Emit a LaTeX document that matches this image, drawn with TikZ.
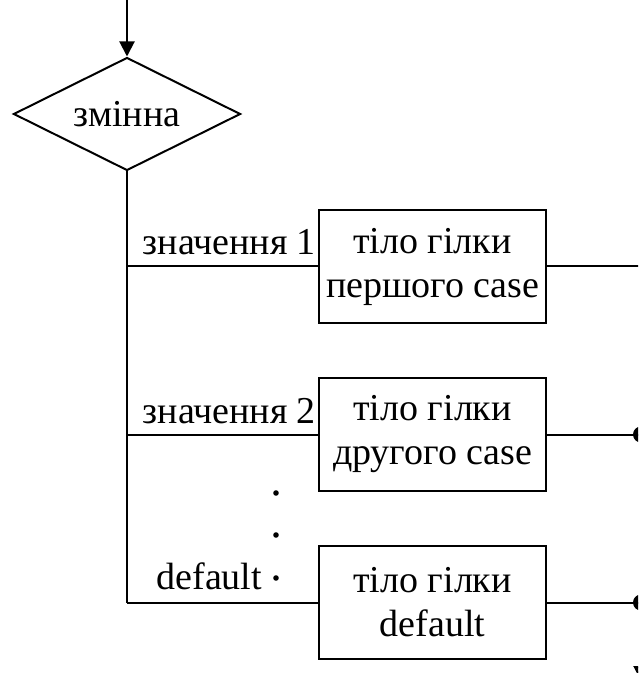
\documentclass[tikz,border=0pt]{standalone}
\usepackage{fontspec}
\setmainfont{Liberation Serif}
\usetikzlibrary{positioning,calc,arrows.meta,shapes.geometric}

\begin{document}
\begin{tikzpicture}[
  x=0.5pt, y=-0.5pt,
  line width=1pt,
  font=\fontsize{19}{22}\selectfont,
  cond/.style={draw, diamond, aspect=2, inner sep=0pt,
               minimum width=113.5pt, minimum height=56.5pt},
  body/.style={draw, minimum width=113.5pt, minimum height=56.5pt,
               align=center, inner sep=0pt},
  lbl/.style={inner sep=0pt},
  arr/.style={-{Triangle[length=7.5pt,width=7.5pt]}},
  dot/.style={fill, inner sep=0pt}
]
  \useasboundingbox (0,0) rectangle (638,673);
  \clip (0,0) rectangle (638,673);

  % Switch variable
  \coordinate (in) at (127,-4);
  \node[cond] (var) at (127,114) {змінна};
  \draw[arr] (in) -- (var.north);

  % Branch bodies
  \node[body] (case1) at (432.5,266.5) {тіло гілки\\першого case};
  \node[body] (case2) at (432.5,434.5) {тіло гілки\\другого case};
  \node[body] (case3) at (432.5,602.5) {тіло гілки\\default};

  % Branch points on the trunk
  \coordinate (j1) at (var.south |- case1.west);
  \coordinate (j2) at (var.south |- case2.west);
  \coordinate (j3) at (var.south |- case3.west);
  \draw (var.south) -- (j3);
  \draw (j1) -- (case1.west);
  \draw (j2) -- (case2.west);
  \draw (j3) -- (case3.west);

  % Case labels
  \node[lbl, anchor=base east] (val1) at (317,255) {значення 1};
  \node[lbl, anchor=base east] (val2) at (317,423) {значення 2};
  \node[lbl, anchor=base east] (valdef) at (263,589) {default};
  \foreach \y in {493,535,578}
    \fill (276,\y) circle (1.4pt);

  % Exits to the common line
  \coordinate (out1) at (641,266.5);
  \coordinate (out2) at (641,434.5);
  \coordinate (out3) at (641,602.5);
  \coordinate (end) at (641,681);
  \draw (case1.east) -- (out1);
  \draw (case2.east) -- (out2);
  \draw (case3.east) -- (out3);
  \fill (out2) circle (4pt);
  \fill (out3) circle (4pt);
  \draw (out1) -- (out3);
  \draw[arr] (out3) -- (end);
\end{tikzpicture}
\end{document}
